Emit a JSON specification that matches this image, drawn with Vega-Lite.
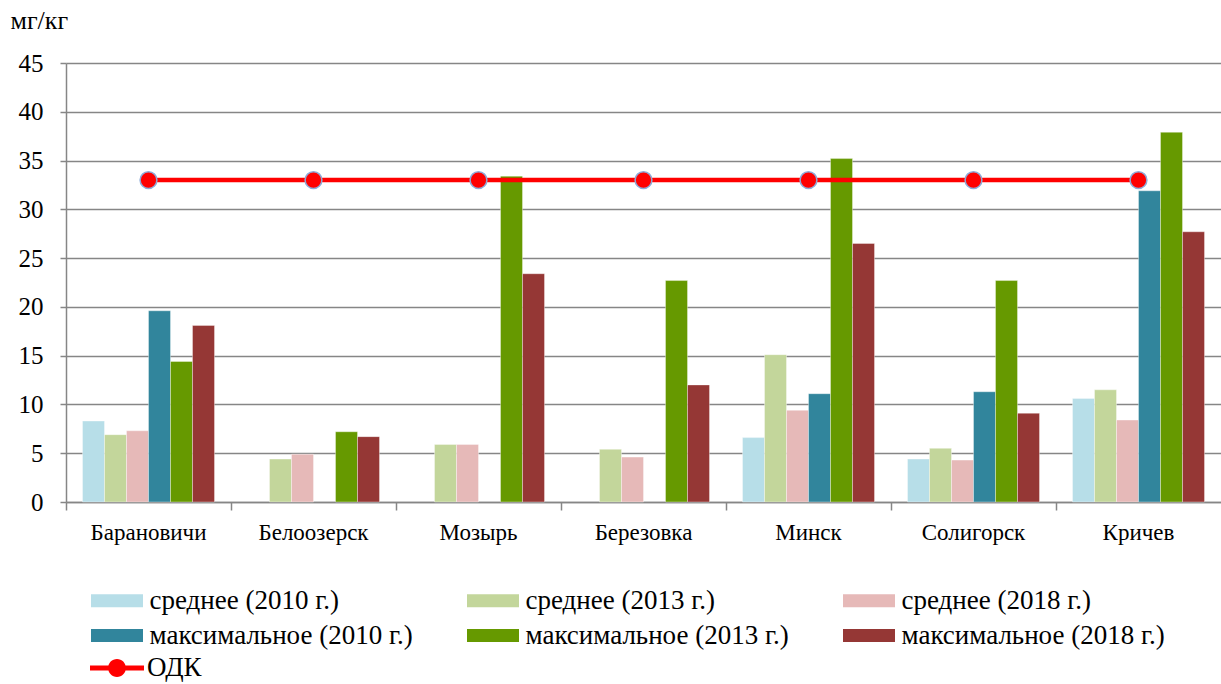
{
  "$schema": "https://vega.github.io/schema/vega-lite/v6.json",
  "autosize": "none",
  "width": 1155,
  "height": 439,
  "padding": {"left": 66, "top": 63, "right": 0, "bottom": 182},
  "background": "white",
  "config": {
    "view": {"stroke": null},
    "font": "Liberation Serif",
    "axis": {"labelFont": "Liberation Serif", "titleFont": "Liberation Serif", "labelColor": "black", "titleColor": "black", "titleFontWeight": "normal"},
    "legend": {"labelFont": "Liberation Serif", "labelColor": "black"}
  },
  "datasets": {
    "bars": [
      {"Город": "Барановичи", "Показатель": "среднее (2010 г.)", "Значение": 8.3},
      {"Город": "Барановичи", "Показатель": "среднее (2013 г.)", "Значение": 6.9},
      {"Город": "Барановичи", "Показатель": "среднее (2018 г.)", "Значение": 7.3},
      {"Город": "Барановичи", "Показатель": "максимальное (2010 г.)", "Значение": 19.6},
      {"Город": "Барановичи", "Показатель": "максимальное (2013 г.)", "Значение": 14.4},
      {"Город": "Барановичи", "Показатель": "максимальное (2018 г.)", "Значение": 18.1},
      {"Город": "Белоозерск", "Показатель": "среднее (2013 г.)", "Значение": 4.4},
      {"Город": "Белоозерск", "Показатель": "среднее (2018 г.)", "Значение": 4.9},
      {"Город": "Белоозерск", "Показатель": "максимальное (2013 г.)", "Значение": 7.2},
      {"Город": "Белоозерск", "Показатель": "максимальное (2018 г.)", "Значение": 6.7},
      {"Город": "Мозырь", "Показатель": "среднее (2013 г.)", "Значение": 5.9},
      {"Город": "Мозырь", "Показатель": "среднее (2018 г.)", "Значение": 5.9},
      {"Город": "Мозырь", "Показатель": "максимальное (2013 г.)", "Значение": 33.4},
      {"Город": "Мозырь", "Показатель": "максимальное (2018 г.)", "Значение": 23.4},
      {"Город": "Березовка", "Показатель": "среднее (2013 г.)", "Значение": 5.4},
      {"Город": "Березовка", "Показатель": "среднее (2018 г.)", "Значение": 4.6},
      {"Город": "Березовка", "Показатель": "максимальное (2013 г.)", "Значение": 22.7},
      {"Город": "Березовка", "Показатель": "максимальное (2018 г.)", "Значение": 12.0},
      {"Город": "Минск", "Показатель": "среднее (2010 г.)", "Значение": 6.6},
      {"Город": "Минск", "Показатель": "среднее (2013 г.)", "Значение": 15.1},
      {"Город": "Минск", "Показатель": "среднее (2018 г.)", "Значение": 9.4},
      {"Город": "Минск", "Показатель": "максимальное (2010 г.)", "Значение": 11.1},
      {"Город": "Минск", "Показатель": "максимальное (2013 г.)", "Значение": 35.2},
      {"Город": "Минск", "Показатель": "максимальное (2018 г.)", "Значение": 26.5},
      {"Город": "Солигорск", "Показатель": "среднее (2010 г.)", "Значение": 4.4},
      {"Город": "Солигорск", "Показатель": "среднее (2013 г.)", "Значение": 5.5},
      {"Город": "Солигорск", "Показатель": "среднее (2018 г.)", "Значение": 4.3},
      {"Город": "Солигорск", "Показатель": "максимальное (2010 г.)", "Значение": 11.3},
      {"Город": "Солигорск", "Показатель": "максимальное (2013 г.)", "Значение": 22.7},
      {"Город": "Солигорск", "Показатель": "максимальное (2018 г.)", "Значение": 9.1},
      {"Город": "Кричев", "Показатель": "среднее (2010 г.)", "Значение": 10.6},
      {"Город": "Кричев", "Показатель": "среднее (2013 г.)", "Значение": 11.5},
      {"Город": "Кричев", "Показатель": "среднее (2018 г.)", "Значение": 8.4},
      {"Город": "Кричев", "Показатель": "максимальное (2010 г.)", "Значение": 31.9},
      {"Город": "Кричев", "Показатель": "максимальное (2013 г.)", "Значение": 37.9},
      {"Город": "Кричев", "Показатель": "максимальное (2018 г.)", "Значение": 27.7}
    ],
    "odk": [
      {"Город": "Барановичи", "Серия": "ОДК", "Значение": 33},
      {"Город": "Белоозерск", "Серия": "ОДК", "Значение": 33},
      {"Город": "Мозырь", "Серия": "ОДК", "Значение": 33},
      {"Город": "Березовка", "Серия": "ОДК", "Значение": 33},
      {"Город": "Минск", "Серия": "ОДК", "Значение": 33},
      {"Город": "Солигорск", "Серия": "ОДК", "Значение": 33},
      {"Город": "Кричев", "Серия": "ОДК", "Значение": 33}
    ]
  },
  "encoding": {
    "x": {
      "field": "Город", "type": "nominal",
      "sort": ["Барановичи", "Белоозерск", "Мозырь", "Березовка", "Минск", "Солигорск", "Кричев"],
      "scale": {"paddingInner": 0, "paddingOuter": 0},
      "axis": {"title": null, "labelAngle": 0, "bandPosition": 0, "labelAlign": "center", "labelFont": "Liberation Serif", "labelFontSize": 23, "labelPadding": 11, "tickSize": 8, "tickColor": "#868686", "tickWidth": 1.5, "domainColor": "#868686", "domainWidth": 1.5, "grid": false}
    },
    "y": {
      "field": "Значение", "type": "quantitative",
      "scale": {"domain": [0, 45], "nice": false},
      "axis": {"values": [0, 5, 10, 15, 20, 25, 30, 35, 40, 45], "title": "мг/кг", "titleAngle": 0, "titleAlign": "left", "titleBaseline": "alphabetic", "titleX": -56, "titleY": -35, "titleFont": "Liberation Serif", "titleFontSize": 26, "labelFont": "Liberation Serif", "labelFontSize": 25, "labelPadding": 17, "tickSize": 6, "tickColor": "#868686", "tickWidth": 1.5, "domainColor": "#868686", "domainWidth": 1.5, "grid": true, "gridColor": "#868686", "gridWidth": 1.5}
    }
  },
  "layer": [
    {
      "data": {"name": "bars"},
      "mark": {"type": "bar", "stroke": "white", "strokeWidth": 0.6, "strokeOpacity": 0.6},
      "encoding": {
        "xOffset": {"field": "Показатель", "type": "nominal",
          "sort": ["среднее (2010 г.)", "среднее (2013 г.)", "среднее (2018 г.)", "максимальное (2010 г.)", "максимальное (2013 г.)", "максимальное (2018 г.)"],
          "scale": {"domain": ["среднее (2010 г.)", "среднее (2013 г.)", "среднее (2018 г.)", "максимальное (2010 г.)", "максимальное (2013 г.)", "максимальное (2018 г.)"], "paddingInner": 0, "paddingOuter": 0.75}},
        "color": {"field": "Показатель", "type": "nominal",
          "scale": {"domain": ["среднее (2010 г.)", "среднее (2013 г.)", "среднее (2018 г.)", "максимальное (2010 г.)", "максимальное (2013 г.)", "максимальное (2018 г.)"], "range": ["#B7DEE8", "#C3D69B", "#E6B9B8", "#31859C", "#669900", "#953735"]},
          "legend": {"title": null, "orient": "none", "legendX": 25, "legendY": 524, "direction": "horizontal", "columns": 3, "gridAlign": "all", "columnPadding": 54, "rowPadding": 7, "padding": 0, "symbolType": "M-2,-0.5H2V0.5H-2Z", "symbolSize": 676, "symbolOffset": 12.5, "symbolStrokeWidth": 0, "labelFont": "Liberation Serif", "labelFontSize": 27, "labelOffset": 19, "labelLimit": 400}
        }
      }
    },
    {
      "data": {"name": "odk"},
      "mark": {"type": "line", "strokeWidth": 4.5},
      "encoding": {
        "stroke": {"field": "Серия", "type": "nominal",
          "scale": {"domain": ["ОДК"], "range": ["#FF0000"]},
          "legend": {"title": null, "orient": "none", "legendX": 24, "legendY": 578, "padding": 0, "symbolType": "M-1,-0.09H1V0.09H-1Z M0.33,0A0.33,0.33,0,1,1,-0.33,0A0.33,0.33,0,1,1,0.33,0Z", "symbolSize": 2916, "labelFont": "Liberation Serif", "labelFontSize": 27, "labelOffset": 3,
            "encode": {"symbols": {"update": {"fill": {"value": "#FF0000"}, "stroke": {"value": "#FF0000"}, "strokeWidth": {"value": 0}}}}}
        }
      }
    },
    {
      "data": {"name": "odk"},
      "mark": {"type": "point", "filled": true, "size": 283, "fill": "#FF0000", "stroke": "#8EABD8", "strokeWidth": 1.5, "opacity": 1}
    }
  ]
}
